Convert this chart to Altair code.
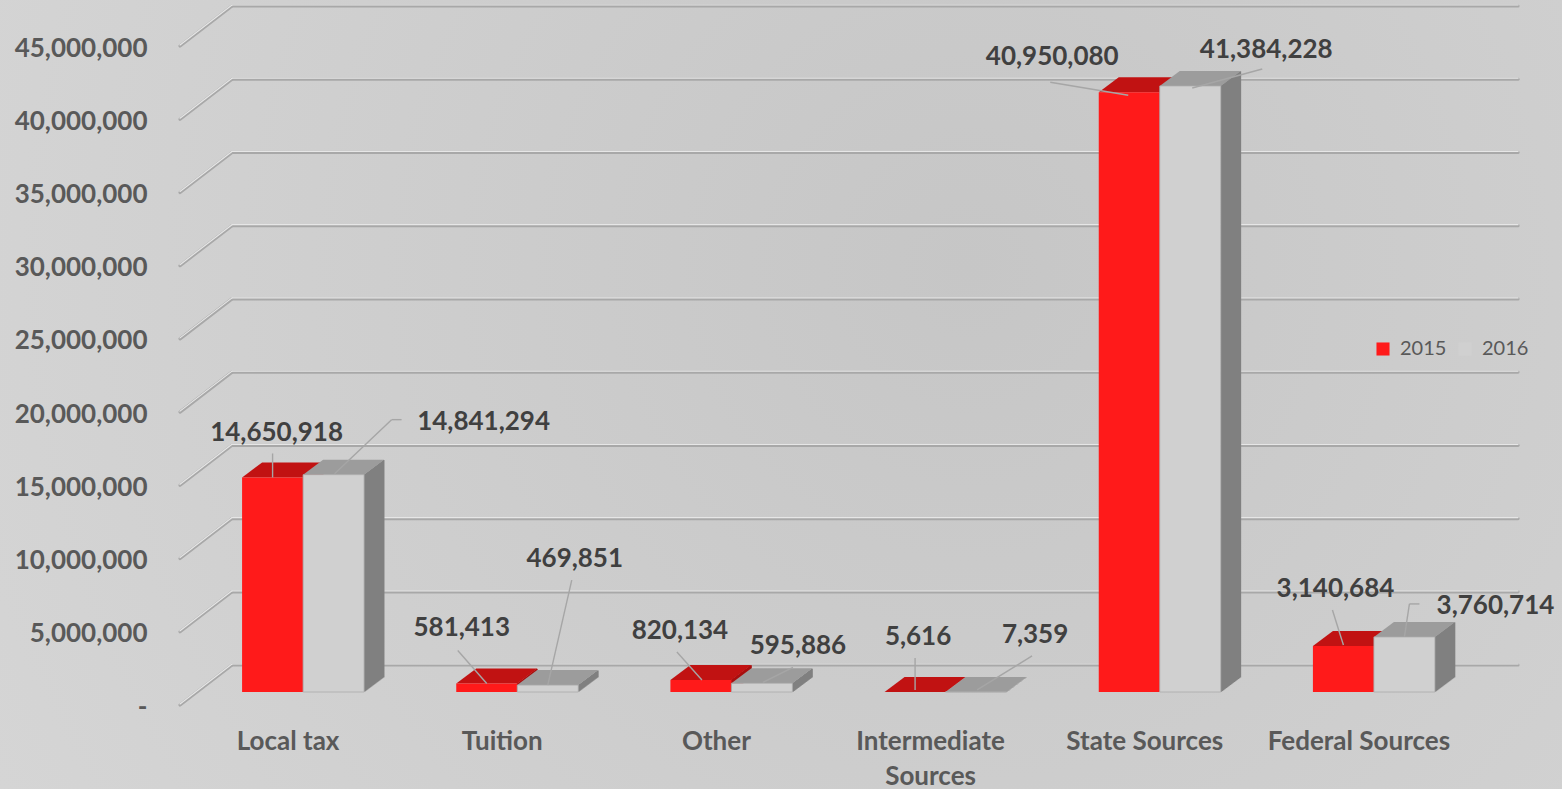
import altair as alt
import pandas as pd

# ---------------- data ----------------
CATEGORIES = ["Local tax", "Tuition", "Other", "Intermediate Sources",
              "State Sources", "Federal Sources"]
YEARS = ["2015", "2016"]
VALUES_2015 = [14650918, 581413, 820134, 5616, 40950080, 3140684]
VALUES_2016 = [14841294, 469851, 595886, 7359, 41384228, 3760714]
Y_TICKS = [0, 5000000, 10000000, 15000000, 20000000, 25000000,
           30000000, 35000000, 40000000, 45000000]

rows = []
for c, a, b in zip(CATEGORIES, VALUES_2015, VALUES_2016):
    rows.append({"cat": c, "year": "2015", "value": a})
    rows.append({"cat": c, "year": "2016", "value": b})
df = pd.DataFrame(rows)
grid_df = pd.DataFrame({"tick": Y_TICKS})

# ---------------- styling ----------------
W, H = 1285, 659
PAD_L, PAD_T = 196, 33
PAD_R, PAD_B = 1562 - PAD_L - W, 789 - PAD_T - H
BAR_W = 61
DX, DY = 20, 15          # depth of the 3D prisms (px)
FONT = "Lato"
BG = "#cccccc"
FRONT = {"2015": "#ff1a1a", "2016": "#d0d0d0"}
TOP = {"2015": "#c11212", "2016": "#9c9c9c"}
SIDE = {"2015": "#a80f0f", "2016": "#808080"}
BASE_OFF = {"2015": -BAR_W / 2, "2016": BAR_W / 2}

# label placement (pixel offsets from the bar's front-top centre), per category & year
LABEL_OFFSETS = {
    ("Local tax", "2015"): (4, -44), ("Local tax", "2016"): (150, -53),
    ("Tuition", "2015"): (-25, -55), ("Tuition", "2016"): (27, -126),
    ("Other", "2015"): (-21, -49), ("Other", "2016"): (36, -37),
    ("Intermediate Sources", "2015"): (3, -55), ("Intermediate Sources", "2016"): (59, -57),
    ("State Sources", "2015"): (-77, -35), ("State Sources", "2016"): (76, -36),
    ("Federal Sources", "2015"): (-8, -57), ("Federal Sources", "2016"): (91, -31),
}
LEADERS = {
    ("Local tax", "2015"): [(0, 0), (0, -24)],
    ("Local tax", "2016"): [(1, -1), (58, -55), (68, -55)],
    ("Tuition", "2015"): [(0, 0), (-29, -33)],
    ("Tuition", "2016"): [(0, 0), (24, -105)],
    ("Other", "2015"): [(1, 0), (-24, -28)],
    ("Other", "2016"): [(1, -1), (31, -16)],
    ("Intermediate Sources", "2015"): [(0, -2), (0, -34)],
    ("Intermediate Sources", "2016"): [(1, -2), (56, -36)],
    ("State Sources", "2015"): [(-1, 3), (-79, -10)],
    ("State Sources", "2016"): [(2, 2), (72, -17)],
    ("Federal Sources", "2015"): [(0, -1), (-11, -36)],
    ("Federal Sources", "2016"): [(0, 0), (5, -33), (15, -33)],
}

x_scale = alt.Scale(domain=CATEGORIES, paddingInner=0, paddingOuter=0)
y_scale = alt.Scale(domain=[0, 45000000], nice=False, zero=True)

x_axis = alt.Axis(
    title=None, labelAngle=0, ticks=False, domain=False, grid=False, zindex=1,
    labelFont=FONT, labelFontSize=26, labelFontWeight="bold", labelColor="#595959",
    labelPadding=36, labelOffset=-15, labelLimit=500, labelLineHeight=35,
    labelOverlap=False,
    labelExpr="datum.value == 'Intermediate Sources' ? ['Intermediate', 'Sources'] : datum.label",
)
y_axis = alt.Axis(
    title=None, values=Y_TICKS, ticks=False, domain=False, grid=False, zindex=1,
    labelFont=FONT, labelFontSize=26, labelFontWeight="bold", labelColor="#595959",
    labelPadding=49, labelOffset=15, labelOverlap=False,
    labelExpr="datum.value == 0 ? '-\u00a0\u00a0\u00a0' : format(datum.value, ',')",
)

X = alt.X("cat:N", scale=x_scale, sort=CATEGORIES, axis=x_axis)
Y = alt.Y("value:Q", scale=y_scale, axis=y_axis, stack=None)

layers = []

# --- soft background gradient ---
bg = alt.Chart(pd.DataFrame({"a": [0]})).mark_rect(
    color=alt.Gradient(
        gradient="radial", x1=0.62, y1=0.42, x2=0.62, y2=0.42, r1=0, r2=0.75,
        stops=[alt.GradientStop(offset=0, color="#c6c6c6"),
               alt.GradientStop(offset=1, color="#d6d6d6")])
).encode(x=alt.value(-PAD_L), x2=alt.value(W + PAD_R),
         y=alt.value(-PAD_T), y2=alt.value(H + PAD_B))
layers.append(bg)

# --- back-wall gridlines (embossed) ---
g = alt.Chart(grid_df)
GT = alt.Y("tick:Q", scale=y_scale, axis=y_axis)
for col, sw, off in [("#a8a8a8", 3.2, 0), ("#e6e6e6", 1.2, -1)]:
    layers.append(g.mark_rule(color=col, strokeWidth=sw, strokeCap="round",
                              yOffset=-27 + off).encode(
        x=alt.value(36), x2=alt.value(W + 37), y=GT))
    layers.append(g.mark_rule(color=col, strokeWidth=sw, strokeCap="round",
                              yOffset=13 + off, y2Offset=-27 + off).encode(
        x=alt.value(-16), x2=alt.value(36), y=GT, y2=alt.Y2("tick")))

# --- 3D bars ---
TOP_PATH = "M-1,0L1,0L{:.4f},{:.4f}L{:.4f},{:.4f}Z".format(
    1 + DX / (BAR_W / 2), -DY / (BAR_W / 2), -1 + DX / (BAR_W / 2), -DY / (BAR_W / 2))

color_enc = alt.Color("year:N", scale=alt.Scale(domain=YEARS, range=[FRONT[y] for y in YEARS]),
                      legend=alt.Legend(
                          title=None, orient="none", legendX=1177, legendY=306,
                          direction="horizontal", symbolType="square", symbolSize=170,
                          symbolStrokeWidth=0, labelFont=FONT, labelFontSize=20,
                          labelColor="#595959", columnPadding=8, labelOffset=7))

for yr in YEARS:
    base = alt.Chart(df).transform_filter(alt.datum.year == yr)
    off = BASE_OFF[yr]
    right = off + BAR_W / 2
    # side face as thin slices
    for j in range(DX):
        yo = -(j + 0.5) * DY / DX
        layers.append(base.mark_bar(width=1.8, color=SIDE[yr], xOffset=right + j + 0.5,
                                    yOffset=yo, y2Offset=yo).encode(
            x=X, y=Y, y2=alt.datum(0)))
    # top face
    layers.append(base.mark_point(shape=TOP_PATH, size=BAR_W ** 2, filled=True, opacity=1,
                                  color=TOP[yr], strokeWidth=0, xOffset=off).encode(
        x=X, y=Y))
    # front face
    front_kwargs = dict(width=BAR_W, xOffset=off)
    if yr == "2016":
        front_kwargs.update(stroke="#ababab", strokeWidth=0.8)
    layers.append(base.mark_bar(**front_kwargs).encode(
        x=X, y=Y, y2=alt.datum(0), color=color_enc))

# --- leader lines and data labels ---
for (cat, yr), pts in LEADERS.items():
    base = alt.Chart(df).transform_filter((alt.datum.cat == cat) & (alt.datum.year == yr))
    off = BASE_OFF[yr]
    for (x0, y0), (x1, y1) in zip(pts[:-1], pts[1:]):
        layers.append(base.mark_rule(color="#a6a6a6", strokeWidth=1.4,
                                     xOffset=off + x0, x2Offset=off + x1,
                                     yOffset=y0, y2Offset=y1).encode(
            x=X, x2=alt.X2("cat"), y=Y, y2=alt.Y2("value")))

for (cat, yr), (ddx, ddy) in LABEL_OFFSETS.items():
    base = alt.Chart(df).transform_filter((alt.datum.cat == cat) & (alt.datum.year == yr))
    layers.append(base.mark_text(font=FONT, fontSize=26, fontWeight="bold", color="#404040",
                                 align="center", baseline="middle",
                                 dx=BASE_OFF[yr] + ddx, dy=ddy).encode(
        x=X, y=Y, text=alt.Text("value:Q", format=",")))

chart = alt.layer(*layers).properties(
    width=W, height=H,
    autosize=alt.AutoSizeParams(type="none"),
    padding={"left": PAD_L, "top": PAD_T, "right": PAD_R, "bottom": PAD_B},
    background=BG,
).configure_view(stroke=None)

chart.save("out.html", embed_options={"renderer": "svg", "actions": False})
